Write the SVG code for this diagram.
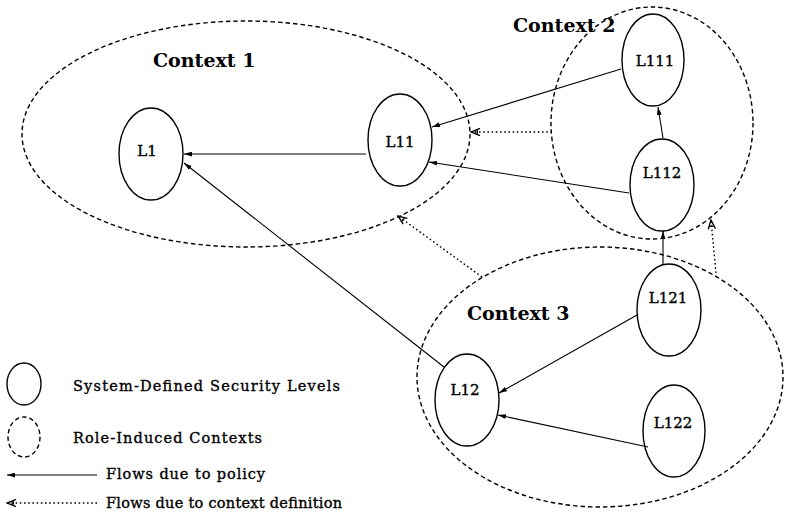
<svg xmlns="http://www.w3.org/2000/svg" width="785" height="516" viewBox="0 0 785 516">
  <style>
    .level { fill: none; stroke: #000; stroke-width: 1.4; }
    .context { fill: none; stroke: #000; stroke-width: 1.4; stroke-dasharray: 4.5 3; }
    .policy { fill: none; stroke: #000; stroke-width: 1.1; marker-end: url(#head-solid); }
    .ctxflow { fill: none; stroke: #000; stroke-width: 1.4; stroke-dasharray: 1.6 2.6; marker-end: url(#head-open); }
    .ctxlabel { font-family: "DejaVu Serif", "Liberation Serif", serif; font-weight: bold; font-size: 19px; fill: #000; }
    .nodelabel { font-family: "DejaVu Serif", "Liberation Serif", serif; font-size: 15px; fill: #000; stroke: #000; stroke-width: 0.35; text-anchor: middle; }
    .legend { font-family: "DejaVu Serif", "Liberation Serif", serif; font-size: 14.5px; fill: #000; stroke: #000; stroke-width: 0.35; }
  </style>
  <defs>
    <marker id="head-solid" viewBox="0 0 10 6" refX="10" refY="3" markerWidth="8" markerHeight="5" markerUnits="userSpaceOnUse" orient="auto">
      <path d="M0,0 L10,3 L0,6 Z" fill="#000"/>
    </marker>
    <marker id="head-open" viewBox="0 0 12 10" refX="11" refY="5" markerWidth="11" markerHeight="9" markerUnits="userSpaceOnUse" orient="auto">
      <path d="M1,1 L11,5 L1,9 M4,3 L4,7" fill="none" stroke="#000" stroke-width="1.5"/>
    </marker>
  </defs>

  <!-- role-induced contexts -->
  <g id="context1">
    <ellipse class="context" cx="246" cy="134" rx="224" ry="113"/>
    <text class="ctxlabel" x="153" y="67">Context 1</text>
  </g>
  <g id="context2">
    <ellipse class="context" cx="652" cy="123" rx="101" ry="116"/>
    <text class="ctxlabel" x="513" y="32">Context 2</text>
  </g>
  <g id="context3">
    <ellipse class="context" cx="600" cy="377" rx="183" ry="130"/>
    <text class="ctxlabel" x="467" y="320">Context 3</text>
  </g>

  <!-- system-defined security levels -->
  <g id="L1">
    <ellipse class="level" cx="151" cy="154" rx="32" ry="46"/>
    <text class="nodelabel" x="147" y="156">L1</text>
  </g>
  <g id="L11">
    <ellipse class="level" cx="400" cy="140" rx="32" ry="46"/>
    <text class="nodelabel" x="400" y="147">L11</text>
  </g>
  <g id="L111">
    <ellipse class="level" cx="653" cy="60" rx="31" ry="46"/>
    <text class="nodelabel" x="655" y="66">L111</text>
  </g>
  <g id="L112">
    <ellipse class="level" cx="662" cy="185" rx="32" ry="46"/>
    <text class="nodelabel" x="662" y="178">L112</text>
  </g>
  <g id="L12">
    <ellipse class="level" cx="467" cy="400" rx="32" ry="46"/>
    <text class="nodelabel" x="465" y="395">L12</text>
  </g>
  <g id="L121">
    <ellipse class="level" cx="669" cy="310" rx="32" ry="46"/>
    <text class="nodelabel" x="668" y="303">L121</text>
  </g>
  <g id="L122">
    <ellipse class="level" cx="674" cy="431" rx="31" ry="46"/>
    <text class="nodelabel" x="673" y="428">L122</text>
  </g>

  <!-- flows -->
  <g id="connectors">
    <line class="policy" x1="366" y1="154" x2="184" y2="154"/>
    <line class="policy" x1="444" y1="367" x2="184" y2="163"/>
    <line class="policy" x1="621" y1="69" x2="432" y2="127"/>
    <line class="policy" x1="629" y1="193" x2="429" y2="162"/>
    <line class="policy" x1="663" y1="138" x2="658" y2="107"/>
    <line class="policy" x1="663" y1="265" x2="663" y2="231"/>
    <line class="policy" x1="637" y1="315" x2="499" y2="393"/>
    <line class="policy" x1="648" y1="447" x2="498" y2="415"/>
    <line class="ctxflow" x1="552" y1="132" x2="471" y2="132"/>
    <line class="ctxflow" x1="482" y1="277" x2="398" y2="216"/>
    <line class="ctxflow" x1="716" y1="273" x2="711" y2="220"/>
  </g>

  <!-- legend -->
  <g id="legend">
    <ellipse class="level" cx="24" cy="384" rx="17" ry="21"/>
    <text class="legend" x="73" y="391" textLength="267">System-Defined  Security Levels</text>
    <ellipse class="context" cx="24" cy="437" rx="16" ry="20"/>
    <text class="legend" x="73" y="443" textLength="189">Role-Induced Contexts</text>
    <line class="policy" x1="97" y1="475" x2="7" y2="475"/>
    <text class="legend" x="106" y="479" textLength="159">Flows due to policy</text>
    <line class="ctxflow" x1="97" y1="503" x2="7" y2="503"/>
    <text class="legend" x="106" y="508" textLength="236">Flows due to context definition</text>
  </g>
</svg>
